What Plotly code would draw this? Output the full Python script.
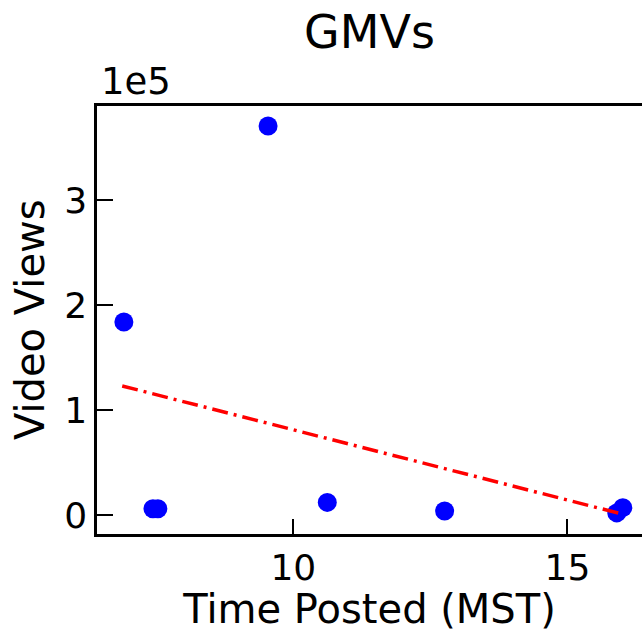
import plotly.graph_objects as go

# data
time_posted = [6.91, 7.44, 7.53, 9.54, 10.62, 12.76, 15.90, 16.01]
video_views = [183800, 6000, 6000, 370500, 12000, 3800, 2000, 7000]
trend_x = [6.88, 15.99]
trend_y = [122900, 1000]
y_tickvals = [0, 100000, 200000, 300000]
y_ticktext = ["0", "1", "2", "3"]
x_tickvals = [10, 15]
x_ticktext = ["10", "15"]

FONT = "DejaVu Sans"

fig = go.Figure()
fig.add_trace(go.Scatter(x=time_posted, y=video_views, mode="markers",
                         marker=dict(color="#0000ff", size=19, line=dict(width=0)),
                         showlegend=False))
fig.add_trace(go.Scatter(x=trend_x, y=trend_y, mode="lines",
                         line=dict(color="#ff0000", width=3.5, dash="16px,6px,3px,6px"),
                         showlegend=False))

fig.update_layout(
    width=642, height=632,
    margin=dict(l=97, r=0, t=106, b=98),
    paper_bgcolor="white", plot_bgcolor="white",
    font=dict(family=FONT, color="black"),
    title=dict(text="GMVs", font=dict(size=46, family=FONT, color="black"),
               x=0.5, xref="paper", xanchor="center",
               y=1 - 32 / 632, yref="container", yanchor="middle"),
    xaxis=dict(range=[6.42, 16.36], tickvals=x_tickvals, ticktext=x_ticktext,
               ticks="inside", ticklen=15, tickwidth=2, tickcolor="black",
               showline=True, linecolor="black", linewidth=2.5, mirror=True,
               showgrid=False, zeroline=False,
               tickfont=dict(size=36, family=FONT, color="black"),
               title=dict(text="Time Posted (MST)", standoff=8,
                          font=dict(size=40, family=FONT, color="black"))),
    yaxis=dict(range=[-18100, 389500], tickvals=y_tickvals, ticktext=y_ticktext,
               ticks="inside", ticklen=16, tickwidth=2, tickcolor="black",
               showline=True, linecolor="black", linewidth=2.5, mirror=False,
               showgrid=False, zeroline=False,
               tickfont=dict(size=36, family=FONT, color="black")),
)
fig.add_annotation(text="Video Views", xref="paper", yref="paper", x=0, y=0.5,
                   xanchor="center", yanchor="middle", showarrow=False,
                   textangle=-90, xshift=-67,
                   font=dict(size=40, family=FONT, color="black"))
fig.add_annotation(text="1e5", xref="paper", yref="paper", x=0, y=1,
                   xanchor="left", yanchor="bottom", showarrow=False,
                   xshift=2, yshift=1,
                   font=dict(size=37, family=FONT, color="black"))

fig.write_html("out.html")
